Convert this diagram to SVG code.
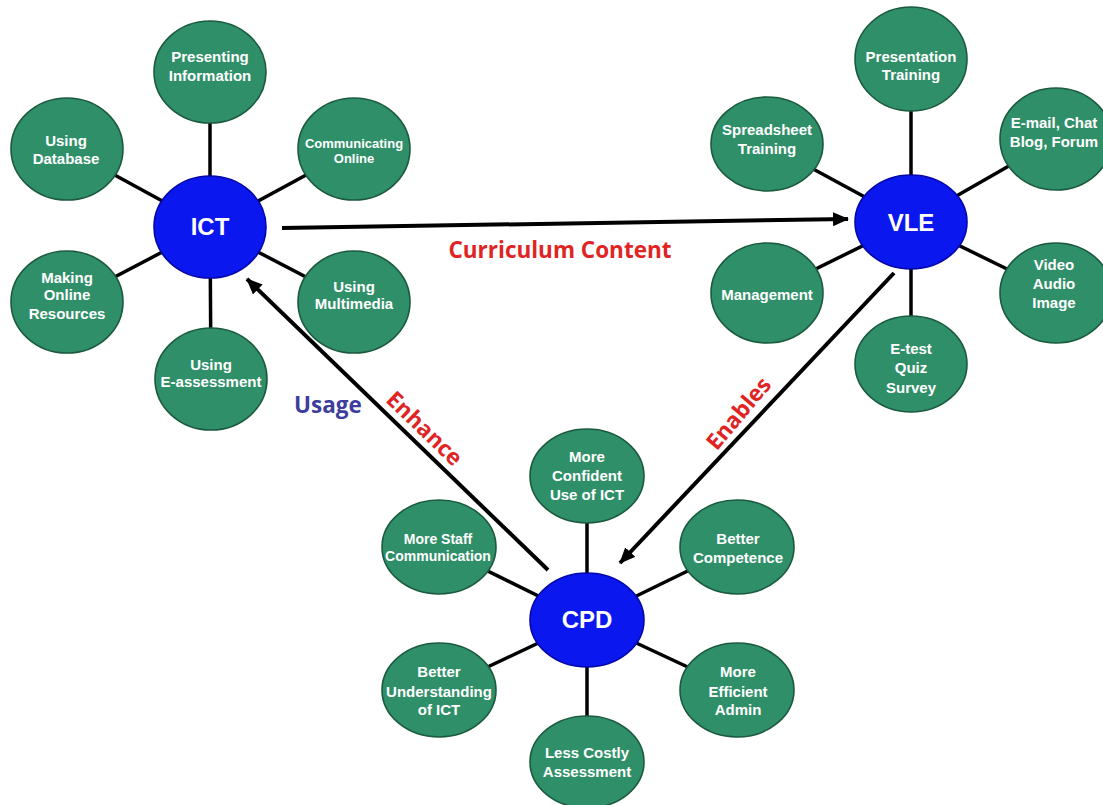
<svg xmlns="http://www.w3.org/2000/svg" width="1103" height="805" viewBox="0 0 1103 805">
<style>
.sat{fill:#2f8f69;stroke:#1b5a3f;stroke-width:1.6}
.hub{fill:#0a17ee;stroke:#0508a8;stroke-width:1.6}
.st{font-family:"Liberation Sans",Arial,sans-serif;font-weight:bold;font-size:15px;fill:#ffffff;text-anchor:middle}
.sm{font-size:13px}
.ht{font-family:"Liberation Sans",Arial,sans-serif;font-weight:bold;font-size:24px;fill:#ffffff;text-anchor:middle}
.spoke{stroke:#000;stroke-width:3.5}
.arr{stroke:#000;stroke-width:4;fill:none;marker-end:url(#ah)}
.lbl{font-family:"Open Sans","Liberation Sans",sans-serif;font-weight:bold;font-size:22.5px}
</style>
<defs>
<marker id="ah" viewBox="0 0 16 14" refX="15" refY="7" markerWidth="16" markerHeight="14" markerUnits="userSpaceOnUse" orient="auto">
<path d="M0,0 L16,7 L0,14 Z" fill="#000"/>
</marker>
</defs>
<rect width="1103" height="805" fill="#ffffff"/>
<g id="spokes">
<line class="spoke" x1="210" y1="227" x2="210" y2="72"/>
<line class="spoke" x1="210" y1="227" x2="67" y2="149"/>
<line class="spoke" x1="210" y1="227" x2="354" y2="149"/>
<line class="spoke" x1="210" y1="227" x2="67" y2="302"/>
<line class="spoke" x1="210" y1="227" x2="354" y2="302"/>
<line class="spoke" x1="210" y1="227" x2="211" y2="379"/>
<line class="spoke" x1="911" y1="222" x2="911" y2="59"/>
<line class="spoke" x1="911" y1="222" x2="767" y2="144"/>
<line class="spoke" x1="911" y1="222" x2="1056" y2="139"/>
<line class="spoke" x1="911" y1="222" x2="767" y2="293"/>
<line class="spoke" x1="911" y1="222" x2="1056" y2="293"/>
<line class="spoke" x1="911" y1="222" x2="911" y2="363"/>
<line class="spoke" x1="587" y1="620" x2="587" y2="476"/>
<line class="spoke" x1="587" y1="620" x2="439" y2="547"/>
<line class="spoke" x1="587" y1="620" x2="737" y2="547"/>
<line class="spoke" x1="587" y1="620" x2="439" y2="690"/>
<line class="spoke" x1="587" y1="620" x2="737" y2="690"/>
<line class="spoke" x1="587" y1="620" x2="587" y2="762"/>
</g>
<g id="connectors">
<line class="arr" x1="282" y1="228" x2="848" y2="219"/>
<line class="arr" x1="548" y1="570" x2="247" y2="279"/>
<line class="arr" x1="894" y1="273" x2="620" y2="563"/>
</g>
<g id="labels">
<text class="lbl" x="560" y="258" fill="#e02424" text-anchor="middle">Curriculum Content</text>
<text class="lbl" x="328" y="413" fill="#3d3d9e" text-anchor="middle">Usage</text>
<text class="lbl" x="425" y="428" fill="#e02424" text-anchor="middle" dominant-baseline="central" transform="rotate(44 425 428)">Enhance</text>
<text class="lbl" x="738" y="413" fill="#e02424" text-anchor="middle" dominant-baseline="central" transform="rotate(-50 738 413)">Enables</text>
</g>
<g id="ict">
<ellipse class="hub" cx="210" cy="227" rx="56" ry="51"/>
<text class="ht" x="210" y="235">ICT</text>
</g>
<g id="ict-presenting">
<ellipse class="sat" cx="210" cy="72" rx="56" ry="51"/>
<text class="st" x="210" y="62">Presenting<tspan x="210" y="81">Information</tspan></text>
</g>
<g id="ict-database">
<ellipse class="sat" cx="67" cy="149" rx="56" ry="51"/>
<text class="st" x="66" y="146">Using<tspan x="66" y="164">Database</tspan></text>
</g>
<g id="ict-communicating">
<ellipse class="sat" cx="354" cy="149" rx="56" ry="51"/>
<text class="st sm" x="354" y="148">Communicating<tspan x="354" y="163">Online</tspan></text>
</g>
<g id="ict-making">
<ellipse class="sat" cx="67" cy="302" rx="56" ry="51"/>
<text class="st" x="67" y="283">Making<tspan x="67" y="300">Online</tspan><tspan x="67" y="319">Resources</tspan></text>
</g>
<g id="ict-multimedia">
<ellipse class="sat" cx="354" cy="302" rx="56" ry="51"/>
<text class="st" x="354" y="292">Using<tspan x="354" y="309">Multimedia</tspan></text>
</g>
<g id="ict-eassessment">
<ellipse class="sat" cx="211" cy="379" rx="56" ry="51"/>
<text class="st" x="211" y="370">Using<tspan x="211" y="387">E-assessment</tspan></text>
</g>
<g id="vle">
<ellipse class="hub" cx="911" cy="222" rx="56" ry="47"/>
<text class="ht" x="911" y="231">VLE</text>
</g>
<g id="vle-presentation">
<ellipse class="sat" cx="911" cy="59" rx="56" ry="52"/>
<text class="st" x="911" y="62">Presentation<tspan x="911" y="80">Training</tspan></text>
</g>
<g id="vle-spreadsheet">
<ellipse class="sat" cx="767" cy="144" rx="56" ry="47"/>
<text class="st" x="767" y="135">Spreadsheet<tspan x="767" y="154">Training</tspan></text>
</g>
<g id="vle-email">
<ellipse class="sat" cx="1056" cy="139" rx="56" ry="51"/>
<text class="st" x="1054" y="128">E-mail, Chat<tspan x="1054" y="147">Blog, Forum</tspan></text>
</g>
<g id="vle-management">
<ellipse class="sat" cx="767" cy="293" rx="56" ry="50"/>
<text class="st" x="767" y="300">Management</text>
</g>
<g id="vle-video">
<ellipse class="sat" cx="1056" cy="293" rx="56" ry="50"/>
<text class="st" x="1054" y="270">Video<tspan x="1054" y="289">Audio</tspan><tspan x="1054" y="308">Image</tspan></text>
</g>
<g id="vle-etest">
<ellipse class="sat" cx="911" cy="364" rx="56" ry="48"/>
<text class="st" x="911" y="354">E-test<tspan x="911" y="373">Quiz</tspan><tspan x="911" y="393">Survey</tspan></text>
</g>
<g id="cpd">
<ellipse class="hub" cx="587" cy="620" rx="57" ry="47"/>
<text class="ht" x="587" y="628">CPD</text>
</g>
<g id="cpd-confident">
<ellipse class="sat" cx="587" cy="476" rx="57" ry="47"/>
<text class="st" x="587" y="462">More<tspan x="587" y="481">Confident</tspan><tspan x="587" y="500">Use of ICT</tspan></text>
</g>
<g id="cpd-staff">
<ellipse class="sat" cx="439" cy="547" rx="57" ry="47"/>
<text class="st" x="438" y="544" style="font-size:14px">More Staff<tspan x="438" y="561">Communication</tspan></text>
</g>
<g id="cpd-competence">
<ellipse class="sat" cx="737" cy="547" rx="57" ry="47"/>
<text class="st" x="738" y="544">Better<tspan x="738" y="563">Competence</tspan></text>
</g>
<g id="cpd-understanding">
<ellipse class="sat" cx="439" cy="690" rx="57" ry="47"/>
<text class="st" x="439" y="677">Better<tspan x="439" y="697">Understanding</tspan><tspan x="439" y="715">of ICT</tspan></text>
</g>
<g id="cpd-admin">
<ellipse class="sat" cx="737" cy="690" rx="57" ry="47"/>
<text class="st" x="738" y="677">More<tspan x="738" y="697">Efficient</tspan><tspan x="738" y="715">Admin</tspan></text>
</g>
<g id="cpd-assessment">
<ellipse class="sat" cx="587" cy="762" rx="57" ry="46"/>
<text class="st" x="587" y="758">Less Costly<tspan x="587" y="777">Assessment</tspan></text>
</g>
</svg>
